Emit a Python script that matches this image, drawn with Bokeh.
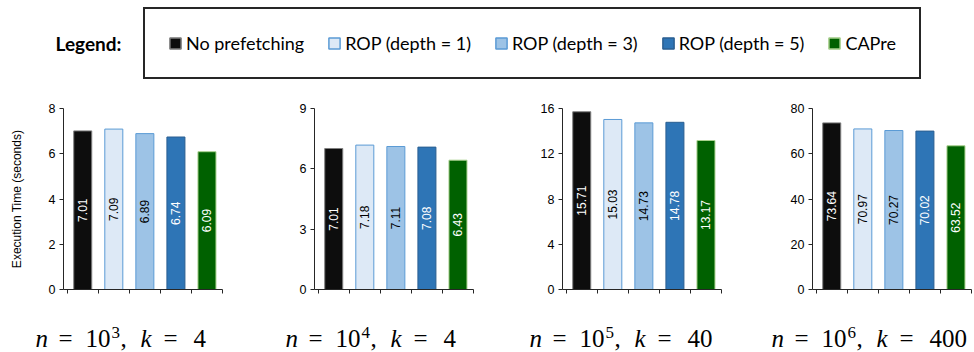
import math
from bokeh.plotting import figure
from bokeh.models import Range1d, FixedTicker, ColumnDataSource, Label, Legend, LegendItem
from bokeh.layouts import column, row
from bokeh.embed import file_html
from bokeh.resources import INLINE
from bokeh.core.properties import value

# ---------------- data ----------------
series_names = ["No prefetching", "ROP (depth = 1)", "ROP (depth = 3)", "ROP (depth = 5)", "CAPre"]
fill_colors = ["#0d0d0d", "#dde9f6", "#9dc3e6", "#2e75b6", "#006100"]
line_colors = ["#7f7f7f", "#5b9bd5", "#5b9bd5", "#2b5f91", "#a9d18e"]
label_colors = ["white", "black", "black", "white", "white"]

times_n1e3 = [7.01, 7.09, 6.89, 6.74, 6.09]
times_n1e4 = [7.01, 7.18, 7.11, 7.08, 6.43]
times_n1e5 = [15.71, 15.03, 14.73, 14.78, 13.17]
times_n1e6 = [73.64, 70.97, 70.27, 70.02, 63.52]

yticks_n1e3 = [0, 2, 4, 6, 8]
yticks_n1e4 = [0, 3, 6, 9]
yticks_n1e5 = [0, 4, 8, 12, 16]
yticks_n1e6 = [0, 20, 40, 60, 80]

n_exponents = ["3", "4", "5", "6"]
k_values = ["4", "4", "40", "400"]

panel_times = [times_n1e3, times_n1e4, times_n1e5, times_n1e6]
panel_ticks = [yticks_n1e3, yticks_n1e4, yticks_n1e5, yticks_n1e6]

y_label = "Execution Time (seconds)"
legend_title = "Legend:"

# ---------------- layout / style ----------------
PAGE_W, PAGE_H = 974, 352
LEG_H = 96
FRAME_W, FRAME_H = 159, 181
TOP_B, BOT_B = 12, 12
borders = [(63, 28), (64, 27), (62, 27), (64, 3)]
caption_x = [35, 285, 529, 771]
AX = "#262626"
SANS = "Liberation Sans"
SERIF = "Liberation Serif"


def make_panel(i):
    times = panel_times[i]
    ticks = panel_ticks[i]
    left, right = borders[i]
    p = figure(width=left + FRAME_W + right, height=TOP_B + FRAME_H + BOT_B,
               min_border_left=left, min_border_right=right,
               min_border_top=TOP_B, min_border_bottom=BOT_B,
               x_range=Range1d(-0.12, 5), y_range=Range1d(0, ticks[-1]),
               output_backend="svg", toolbar_location=None)
    p.grid.visible = False
    p.outline_line_color = None

    src = ColumnDataSource(dict(
        x=[j + 0.5 for j in range(len(times))],
        top=times,
        half=[t / 2 for t in times],
        label=[f"{t:.2f}" for t in times],
        fill=fill_colors, line=line_colors, tc=label_colors,
    ))
    p.vbar(x="x", top="top", bottom=0, width=0.58, fill_color="fill",
           line_color="line", line_width=1, source=src)
    p.text(x="x", y="half", text="label", angle=math.pi / 2,
           text_align="center", text_baseline="middle", text_color="tc",
           text_font=value(SANS), text_font_size="12px", source=src)

    xa = p.xaxis[0]
    xticks = list(range(6))
    xa.ticker = FixedTicker(ticks=xticks)
    xa.major_label_overrides = {t: "" for t in xticks}
    xa.major_label_text_font_size = "0px"
    xa.major_label_standoff = 0
    xa.major_tick_out = 4
    xa.major_tick_in = 0
    xa.minor_tick_out = 0
    xa.minor_tick_in = 0
    xa.axis_line_color = AX
    xa.major_tick_line_color = AX

    ya = p.yaxis[0]
    ya.ticker = FixedTicker(ticks=ticks)
    ya.major_tick_out = 4
    ya.major_tick_in = 0
    ya.minor_tick_out = 0
    ya.minor_tick_in = 0
    ya.axis_line_color = AX
    ya.major_tick_line_color = AX
    ya.major_label_standoff = 4
    ya.major_label_text_font = SANS
    ya.major_label_text_font_size = "12.5px"
    ya.major_label_text_color = "black"
    if i == 0:
        ya.axis_label = y_label
        ya.axis_label_text_font = SANS
        ya.axis_label_text_font_size = "12px"
        ya.axis_label_text_font_style = "normal"
        ya.axis_label_text_color = "black"
        ya.axis_label_standoff = 22
    return p


panels = [make_panel(i) for i in range(4)]

# ---------------- legend strip ----------------
lg = figure(width=PAGE_W, height=LEG_H, x_range=Range1d(0, 5), y_range=Range1d(0, 80),
            min_border=0, toolbar_location=None, output_backend="svg",
            x_axis_type=None, y_axis_type=None)
lg.grid.visible = False
lg.outline_line_color = None
items = []
for j, name in enumerate(series_names):
    r = lg.vbar(x=[j + 0.5], top=[times_n1e3[j]], width=0.58, fill_color=fill_colors[j],
                line_color=line_colors[j], line_width=1.5, visible=False)
    items.append(LegendItem(label=name, renderers=[r]))

legend = Legend(items=items, orientation="horizontal", location=(143, 17),
                padding=23, spacing=23, margin=0,
                glyph_width=14, glyph_height=14, label_standoff=4,
                label_text_font="Lato", label_text_font_size="18px", label_text_color="black",
                border_line_color="#262626", border_line_width=2, border_line_alpha=1.0,
                background_fill_color="white", background_fill_alpha=1.0)
lg.add_layout(legend)
lg.add_layout(Label(x=55, y=53, x_units="screen", y_units="screen", text=legend_title,
                    text_font="Lato", text_font_style="bold", text_font_size="19px",
                    text_baseline="middle", text_color="black"))

# ---------------- caption strip:  n = 10^e,  k = v ----------------
CAP_H = PAGE_H - LEG_H - (TOP_B + FRAME_H + BOT_B)
cap = figure(width=PAGE_W, height=CAP_H, x_range=Range1d(0, 1), y_range=Range1d(0, 1),
             min_border=0, toolbar_location=None, output_backend="svg",
             x_axis_type=None, y_axis_type=None)
cap.grid.visible = False
cap.outline_line_color = None
mid = 14
for i in range(4):
    x0 = caption_x[i]
    pieces = [
        ("n", 0, "italic", "25px", 0),
        ("=", 23, "normal", "25px", 0),
        ("10", 50, "normal", "25px", 0),
        (n_exponents[i], 76, "normal", "17px", 6),
        (",", 85, "normal", "25px", 0),
        ("k", 105, "italic", "25px", 0),
        ("=", 128, "normal", "25px", 0),
        (k_values[i], 158, "normal", "25px", 0),
    ]
    for txt, dx, style, size, dy in pieces:
        cap.add_layout(Label(x=x0 + dx, y=mid + dy, x_units="screen", y_units="screen",
                             text=txt, text_font=SERIF, text_font_style=style,
                             text_font_size=size, text_color="black",
                             text_baseline="middle", text_align="left"))

layout = column(lg, row(*panels, spacing=0), cap, spacing=0)

with open("out.html", "w") as f:
    f.write(file_html(layout, INLINE, title="Execution time"))
